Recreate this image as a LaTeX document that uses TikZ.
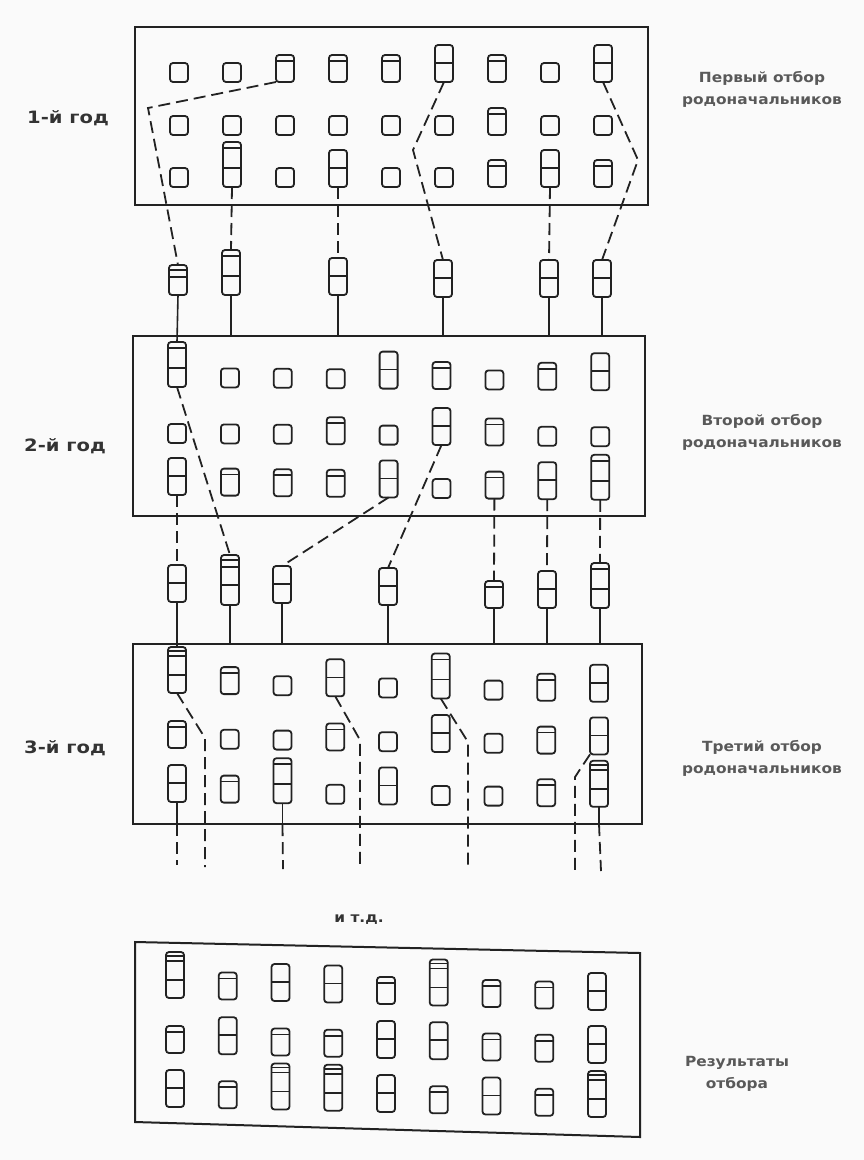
\documentclass[tikz,border=0pt]{standalone}
\usepackage{fontspec}
\usepackage{graphicx}
\newfontfamily\labfont{DejaVu Sans}
\definecolor{ink}{HTML}{222222}
\definecolor{paper}{HTML}{FAFAFA}
\newcommand\wideA[1]{\scalebox{1.15}[1]{#1}}
\newcommand\wideB[1]{\scalebox{1.1}[1]{#1}}
\newcommand\prow[6]{\foreach \ty [count=\ci] in {#6}{\node[p\ty] (#1c\ci) at ({#2+#3*(\ci-1)},{#4+#5*(\ci-1)}) {};}}
\tikzset{
  plant/.style={draw=ink, line width=1.8pt, rounded corners=3pt, minimum width=18pt, inner sep=0pt, outer sep=0pt, anchor=south},
  hl/.style={path picture={\foreach \hh in {#1}{\draw[ink, line width=1.6pt] ([yshift=-\hh]path picture bounding box.north west) -- ([yshift=-\hh]path picture bounding box.north east);}}},
  pA/.style={plant, minimum height=19pt},
  pB/.style={plant, minimum height=27pt, hl={6pt}},
  pC/.style={plant, minimum height=37pt, hl={18pt}},
  pD/.style={plant, minimum height=45pt, hl={6pt,26pt}},
  pE/.style={plant, minimum height=46pt, hl={4pt,9pt,28pt}},
  pF/.style={plant, minimum height=30pt, hl={5pt,12pt}},
  pG/.style={plant, minimum height=50pt, hl={5pt,12pt,30pt}},
  box/.style={draw=ink, line width=2pt, inner sep=0pt, outer sep=0pt, anchor=north west},
  sel/.style={draw=ink, line width=1.8pt, dash pattern=on 12pt off 6pt},
  conn/.style={draw=ink, line width=1.6pt},
  ylab/.style={font=\labfont\bfseries\fontsize{17}{20}\selectfont, text=black!80, inner sep=0pt},
  rlab/.style={font=\labfont\bfseries\fontsize{14}{22}\selectfont, text=black!65, align=center, inner sep=0pt}
}
\begin{document}
\begin{tikzpicture}[x=1pt,y=-1pt]
\fill[paper] (0,0) rectangle (864,1160);
\useasboundingbox (0,0) rectangle (864,1160);

% boxes
\node[box, minimum width=513pt, minimum height=178pt] (box1) at (135,27) {};
\node[box, minimum width=512pt, minimum height=180pt] (box2) at (133,336) {};
\node[box, minimum width=509pt, minimum height=180pt] (box3) at (133,644) {};
\coordinate (q1) at (135,942);
\coordinate (q2) at (640,953);
\coordinate (q3) at (640,1137);
\coordinate (q4) at (135,1122);
\draw[ink, line width=2pt] (q1) -- (q2) -- (q3) -- (q4) -- cycle;

% box 1
\prow{b1r1}{179}{53}{82}{0}{A,A,B,B,B,C,B,A,C}
\prow{b1r2}{179}{53}{135}{0}{A,A,A,A,A,A,B,A,A}
\prow{b1r3}{179}{53}{187}{0}{A,D,A,C,A,A,B,C,B}
% intermediate 1
\node[pF] (i1c1) at (178,295) {};
\node[pD] (i1c2) at (231,295) {};
\node[pC] (i1c4) at (338,295) {};
\node[pC] (i1c6) at (443,297) {};
\node[pC] (i1c8) at (549,297) {};
\node[pC] (i1c9) at (602,297) {};
% box 2
\prow{b2r1}{177}{52.9}{387}{0.4}{D,A,A,A,C,B,A,B,C}
\prow{b2r2}{177}{52.9}{443}{0.4}{A,A,A,B,A,C,B,A,A}
\prow{b2r3}{177}{52.9}{495}{0.6}{C,B,B,B,C,A,B,C,D}
% intermediate 2
\node[pC] (i2c1) at (177,602) {};
\node[pG] (i2c2) at (230,605) {};
\node[pC] (i2c3) at (282,603) {};
\node[pC] (i2c5) at (388,605) {};
\node[pB] (i2c7) at (494,608) {};
\node[pC] (i2c8) at (547,608) {};
\node[pD] (i2c9) at (600,608) {};
% box 3
\prow{b3r1}{177}{52.75}{693}{1.1}{E,B,A,C,A,D,A,B,C}
\prow{b3r2}{177}{52.75}{748}{0.8}{B,A,A,B,A,C,A,B,C}
\prow{b3r3}{177}{52.75}{802}{0.6}{C,B,D,A,C,A,A,B,E}
% box 4
\prow{b4r1}{175}{52.75}{998}{1.5}{E,B,C,C,B,E,B,B,C}
\prow{b4r2}{175}{52.75}{1053}{1.25}{B,C,B,B,C,C,B,B,C}
\prow{b4r3}{175}{52.75}{1107}{1.25}{C,B,E,E,C,B,C,B,E}

% selections box 1 -> intermediate 1
\coordinate (k1) at (148,108);
\coordinate (k2) at (413,150);
\coordinate (k3) at (638,160);
\draw[sel] (b1r1c3.south west) -- (k1) -- (i1c1.north);
\draw[sel] (b1r1c6.south) -- (k2) -- (i1c6.north);
\draw[sel] (b1r1c9.south) -- (k3) -- (i1c9.north);
\draw[sel] (b1r3c2.south) -- (i1c2.north);
\draw[sel] (b1r3c4.south) -- (i1c4.north);
\draw[sel] (b1r3c8.south) -- (i1c8.north);
% intermediate 1 -> box 2
\draw[conn] (i1c1.south) -- (b2r1c1.north);
\foreach \n in {2,4,6,8,9}{\draw[conn] (i1c\n.south) -- (i1c\n.south |- box2.north);}

% selections box 2 -> intermediate 2
\draw[sel] (b2r1c1.south) -- (i2c2.north);
\draw[sel] (b2r2c6.south) -- (i2c5.north);
\draw[sel] (b2r3c5.south) -- (i2c3.north);
\draw[sel] (b2r3c1.south) -- (i2c1.north);
\draw[sel] (b2r3c7.south) -- (i2c7.north);
\draw[sel] (b2r3c8.south) -- (i2c8.north);
\draw[sel] (b2r3c9.south) -- (i2c9.north);
% intermediate 2 -> box 3
\draw[conn] (i2c1.south) -- (b3r1c1.north);
\foreach \n in {2,3,5,7,8,9}{\draw[conn] (i2c\n.south) -- (i2c\n.south |- box3.north);}

% selections out of box 3
\coordinate (m1) at (205,738);
\coordinate (m2) at (360,740);
\coordinate (m3) at (468,742);
\coordinate (m4) at (575,777);
\coordinate (t1) at (205,867);
\coordinate (t2) at (360,867);
\coordinate (t3) at (468,870);
\coordinate (t4) at (575,872);
\coordinate (t5) at (177,865);
\coordinate (t6) at (283,869);
\coordinate (t7) at (601,871);
\draw[sel] (b3r1c1.south) -- (m1) -- (t1);
\draw[sel] (b3r1c4.south) -- (m2) -- (t2);
\draw[sel] (b3r1c6.south) -- (m3) -- (t3);
\draw[sel] (b3r2c9.south west) -- (m4) -- (t4);
\draw[conn] (b3r3c1.south) -- (b3r3c1.south |- box3.south);
\draw[sel] (b3r3c1.south |- box3.south) -- (t5);
\draw[conn] (b3r3c3.south) -- (b3r3c3.south |- box3.south);
\draw[sel] (b3r3c3.south |- box3.south) -- (t6);
\draw[conn] (b3r3c9.south) -- (b3r3c9.south |- box3.south);
\draw[sel] (b3r3c9.south |- box3.south) -- (t7);

% labels
\node[ylab] (y1) at (68,118) {\wideA{1-й год}};
\node[ylab] (y2) at (65,446) {\wideA{2-й год}};
\node[ylab] (y3) at (65,748) {\wideA{3-й год}};
\node[rlab] (s1) at (762,89) {\wideB{Первый отбор}\\\wideB{родоначальников}};
\node[rlab] (s2) at (762,432) {\wideB{Второй отбор}\\\wideB{родоначальников}};
\node[rlab] (s3) at (762,758) {\wideB{Третий отбор}\\\wideB{родоначальников}};
\node[rlab] (s4) at (737,1074) {\wideB{Результаты}\\\wideB{отбора}};
\node[rlab, text=black!80] (etc) at (359,920) {\wideB{и т.д.}};
\end{tikzpicture}
\end{document}
